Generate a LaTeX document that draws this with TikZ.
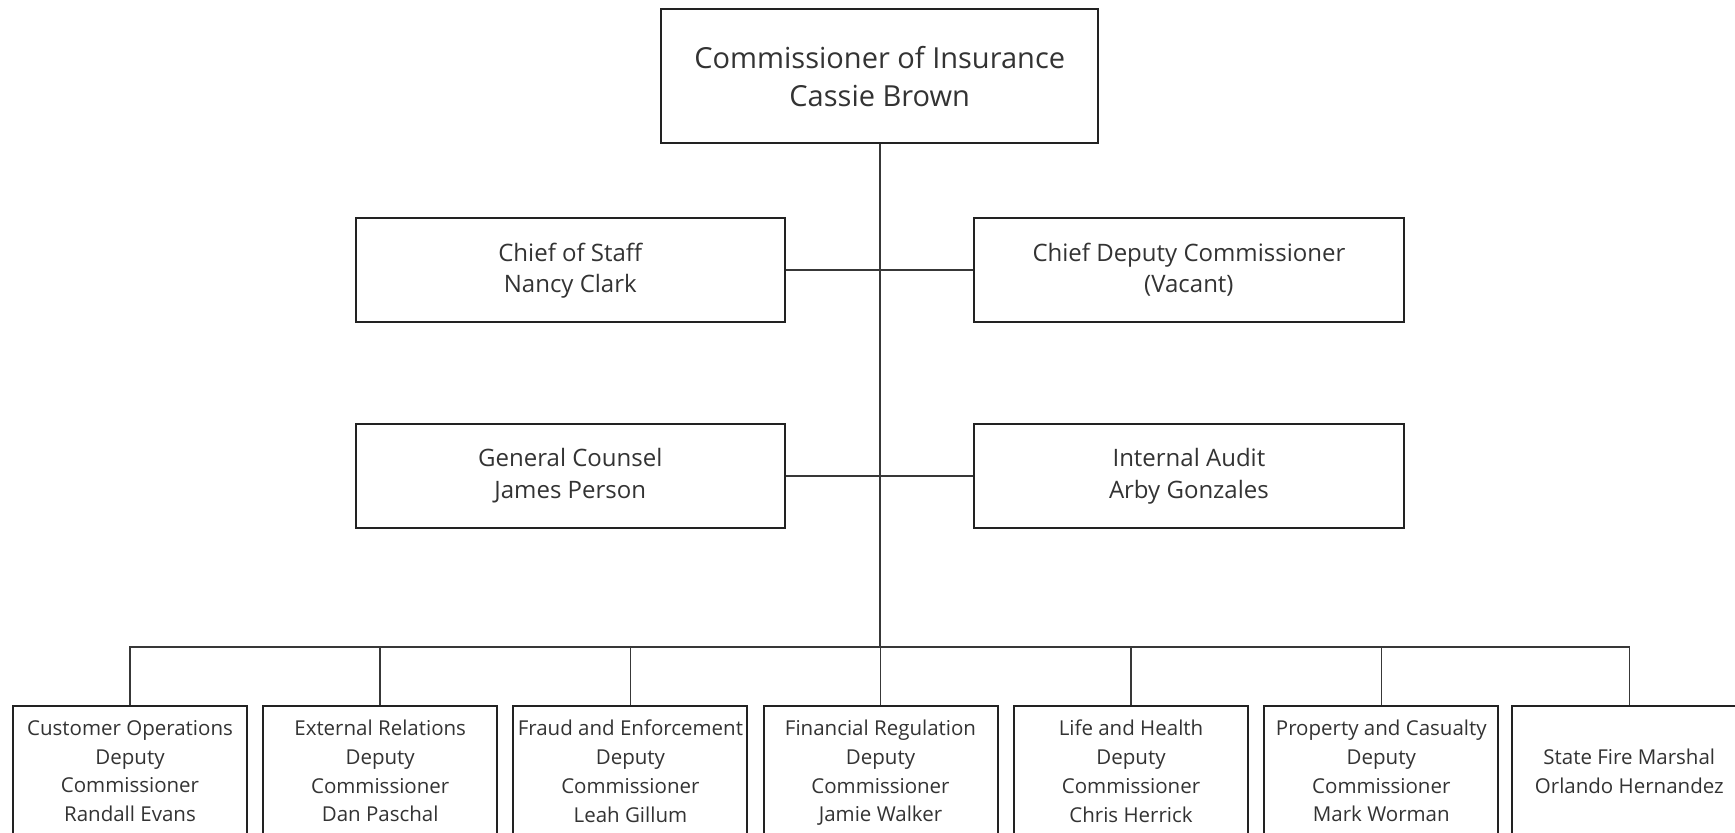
\documentclass[tikz,border=0pt]{standalone}
\usepackage{fontspec}
\setmainfont{Open Sans}
\definecolor{boxline}{HTML}{222222}
\definecolor{conline}{HTML}{383838}
\definecolor{txt}{HTML}{333333}
\begin{document}
\begin{tikzpicture}[x=0.5pt,y=-0.5pt,
  box/.style={draw=boxline,line width=1pt,fill=white,inner sep=0pt,align=center,text=txt,text depth=0pt},
  topbox/.style={box,minimum width=218.75pt,minimum height=67.25pt,text depth=-2.4pt,font=\fontsize{14.5}{19.2}\selectfont},
  midbox/.style={box,minimum width=214.75pt,minimum height=52.15pt,text depth=2.2pt,font=\fontsize{12}{15.9}\selectfont},
  lowbox/.style={box,minimum width=117pt,minimum height=65pt,font=\fontsize{10.25}{14.4}\selectfont},
  conn/.style={draw=conline,line width=0.8pt}]
\useasboundingbox (0,0) rectangle (1735,833);
\node[topbox] (ci) at (879.7,76.2) {Commissioner of Insurance\\Cassie Brown};
\node[midbox] (cos) at (570.3,270) {Chief of Staff\\Nancy Clark};
\node[midbox] (cdc) at (1188.9,270) {Chief Deputy Commissioner\\(Vacant)};
\node[midbox] (gc) at (570.3,475.8) {General Counsel\\James Person};
\node[midbox] (ia) at (1188.9,475.8) {Internal Audit\\Arby Gonzales};
\node[lowbox] (b1) at (130,771) {Customer Operations\\Deputy\\Commissioner\\Randall Evans};
\node[lowbox] (b2) at (380.2,771) {External Relations\\Deputy\\Commissioner\\Dan Paschal};
\node[lowbox] (b3) at (630.4,771) {Fraud and Enforcement\\Deputy\\Commissioner\\Leah Gillum};
\node[lowbox] (b4) at (880.5,771) {Financial Regulation\\Deputy\\Commissioner\\Jamie Walker};
\node[lowbox] (b5) at (1131,771) {Life and Health\\Deputy\\Commissioner\\Chris Herrick};
\node[lowbox] (b6) at (1381.3,771) {Property and Casualty\\Deputy\\Commissioner\\Mark Worman};
\node[lowbox] (b7) at (1629.3,771) {State Fire Marshal\\Orlando Hernandez};
\coordinate (bus) at (879.7,647.3);
\draw[conn] (ci.south) -- (bus);
\draw[conn] (cos.east) -- (cdc.west);
\draw[conn] (gc.east) -- (ia.west);
\draw[conn] (b1.north) |- (bus);
\draw[conn] (b7.north) |- (bus);
\foreach \b in {b2,b3,b4,b5,b6} { \draw[conn] (\b.north) -- (\b.north |- bus); }
\end{tikzpicture}
\end{document}
